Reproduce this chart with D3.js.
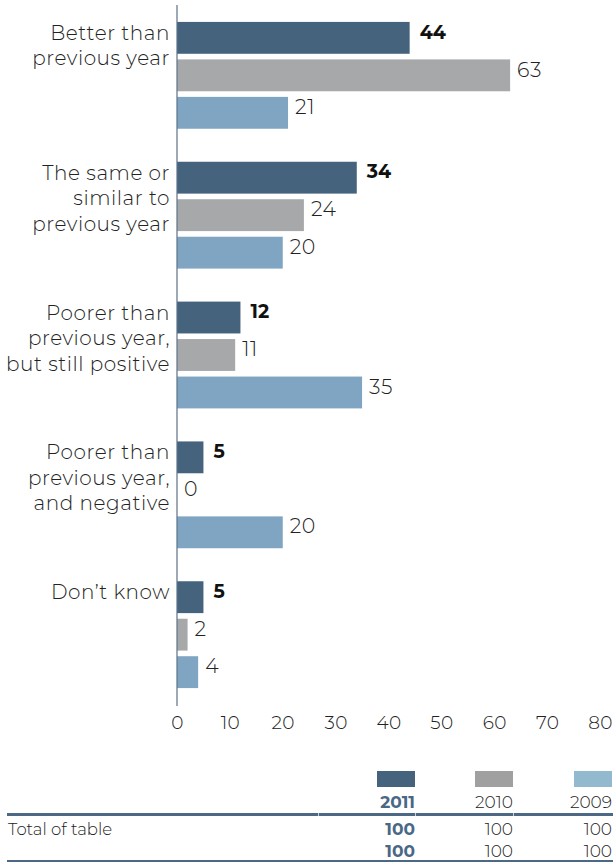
<!DOCTYPE html>
<html><head><meta charset="utf-8">
<script src="https://cdn.jsdelivr.net/npm/d3@7"></script>
<style>
body{margin:0;background:#fff;}
svg{display:block;font-family:"Montserrat","Lato","Noto Sans",sans-serif;}
</style></head>
<body><svg id="c" width="615" height="863"></svg>
<script>
const categories = [
  ["Better than", "previous year"],
  ["The same or", "similar to", "previous year"],
  ["Poorer than", "previous year,", "but still positive"],
  ["Poorer than", "previous year,", "and negative"],
  ["Don\u2019t know"]
];
const years = ["2011", "2010", "2009"];
const values2011 = [44, 34, 12, 5, 5];
const values2010 = [63, 24, 11, 0, 2];
const values2009 = [21, 20, 35, 20, 4];
const xTicks = [0, 10, 20, 30, 40, 50, 60, 70, 80];
const totals = [["Total of table", "100", "100", "100"], ["", "100", "100", "100"]];

const series = [values2011, values2010, values2009];
const barColors = ["#46637e", "#a7a8aa", "#7fa5c3"];
const swatchColors = ["#46637e", "#a0a0a0", "#93b9cf"];

const svg = d3.select("#c");
const x = d3.scaleLinear().domain([0, 80]).range([177, 600]);
const y = d3.scaleBand().domain(d3.range(categories.length)).range([5, 705]).paddingInner(0.236).paddingOuter(0.121);
const yi = d3.scaleBand().domain(d3.range(3)).range([0, y.bandwidth()]).paddingInner(0.15);

const g = svg.append("g");
categories.forEach((cat, ci) => {
  const gy = y(ci);
  series.forEach((vals, si) => {
    const v = vals[ci];
    const by = gy + yi(si);
    g.append("rect").attr("x", x(0)).attr("y", by)
      .attr("width", x(v) - x(0)).attr("height", yi.bandwidth())
      .attr("fill", barColors[si]);
    g.append("text").attr("x", x(v) + (si === 0 ? 10 : 7)).attr("y", by + yi.bandwidth() / 2 - 6)
      .attr("dy", "0.35em").attr("font-size", si === 0 ? 19 : 20.5)
      .attr("font-weight", si === 0 ? 700 : 300)
      .attr("letter-spacing", si === 0 ? 0 : 0.6)
      .attr("fill", si === 0 ? "#111" : "#222")
      .text(v);
  });
  const t = g.append("text").attr("text-anchor", "end").attr("font-size", 20).attr("fill", "#222")
    .attr("font-weight", 300).attr("letter-spacing", 0.55);
  cat.forEach((line, li) => {
    t.append("tspan").attr("x", 170).attr("y", gy + 18 + li * 25.5).text(line);
  });
});

// axis line
svg.append("line").attr("x1", x(0)).attr("x2", x(0)).attr("y1", 5).attr("y2", 706)
  .attr("stroke", "#5d7188").attr("stroke-width", 1.2);

// x ticks
const xAxis = d3.axisBottom(x).tickValues(xTicks).tickSize(0).tickPadding(0);
const ax = svg.append("g").attr("transform", "translate(0,716)").call(xAxis);
ax.select(".domain").remove();
ax.selectAll("text").attr("font-size", 18.5).attr("fill", "#222").attr("font-weight", 300)
  .attr("letter-spacing", 0.4)
  .attr("font-family", "'Montserrat','Lato','Noto Sans',sans-serif");

// table
const colRight = [415, 513, 612];
years.forEach((yr, i) => {
  svg.append("rect").attr("x", colRight[i] - 38).attr("y", 771).attr("width", 38).attr("height", 16).attr("fill", swatchColors[i]);
  svg.append("text").attr("x", colRight[i]).attr("y", 808).attr("text-anchor", "end")
    .attr("font-size", 17).attr("font-weight", i === 0 ? 700 : 300)
    .attr("fill", i === 0 ? "#4a6886" : "#222").text(yr);
});
svg.append("rect").attr("x", 7).attr("y", 813).attr("width", 606).attr("height", 3).attr("fill", "#4d6884");
[318, 415, 513].forEach(xx => svg.append("rect").attr("x", xx).attr("y", 813).attr("width", 1).attr("height", 3).attr("fill", "#c9d3dd"));
totals.forEach((row, ri) => {
  const yy = 835 + ri * 22;
  svg.append("text").attr("x", 8).attr("y", yy).attr("font-size", 16.5).attr("font-weight", 300).attr("fill", "#222").text(row[0]);
  row.slice(1).forEach((v, i) => {
    svg.append("text").attr("x", colRight[i]).attr("y", yy).attr("text-anchor", "end")
      .attr("font-size", 17).attr("font-weight", i === 0 ? 700 : 300)
      .attr("fill", i === 0 ? "#4a6886" : "#222").text(v);
  });
});
svg.append("rect").attr("x", 7).attr("y", 860).attr("width", 606).attr("height", 2).attr("fill", "#4d6884");
</script></body></html>
